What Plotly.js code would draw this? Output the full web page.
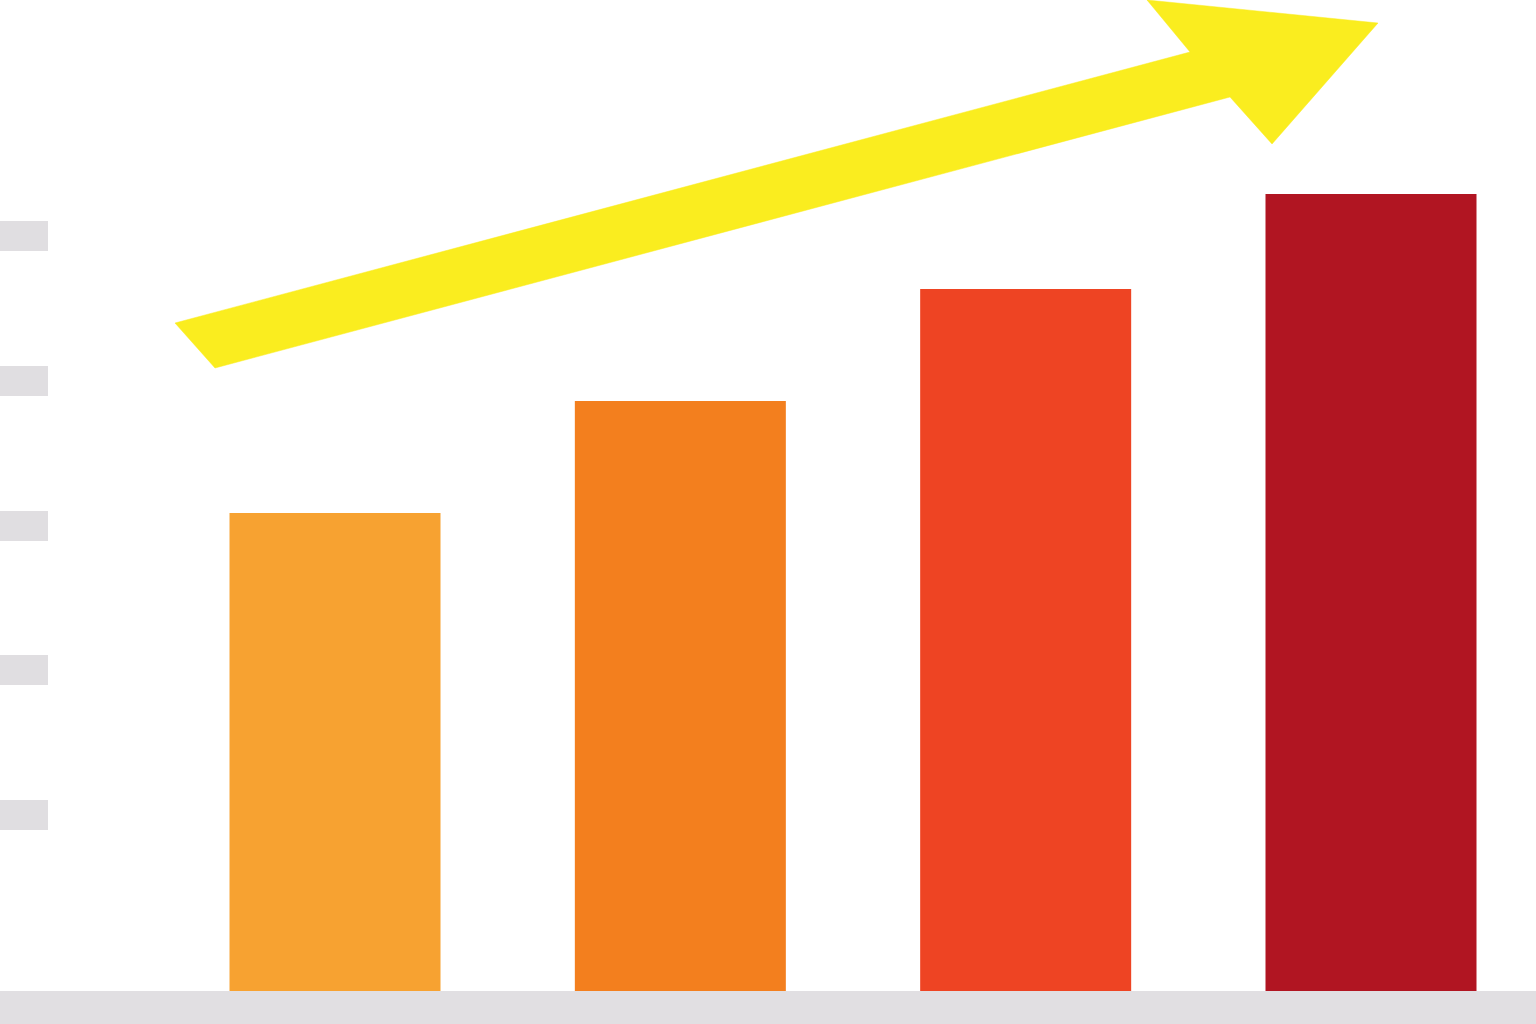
<!DOCTYPE html>
<html>
<head>
<meta charset="utf-8">
<script src="https://cdn.plot.ly/plotly-3.0.1.min.js"></script>
<style>
  html, body { margin: 0; padding: 0; background: #ffffff; overflow: hidden; }
  #chart { width: 1536px; height: 1024px; }
</style>
</head>
<body>
<div id="chart"></div>
<script>
// bar values (arbitrary units, baseline 0)
var categories = [0, 1, 2, 3];
var values = [478, 590, 702, 797];
var barColors = ['#F7A231', '#F37F1E', '#EE4423', '#B11522'];

// grey tick marks on the left
var tickValues = [176, 321, 465, 610, 755];

// trend arrow outline
var arrowX = [-0.4633, 2.4759, 2.3514, 3.0203, 2.7134, 2.5917, -0.3475, -0.4633];
var arrowY = [668, 939, 991, 968, 847, 894, 623, 668];

function showChart() {
    var bars = {
        x: categories,
        y: values,
        type: 'bar',
        width: 0.611,
        marker: { color: barColors, line: { width: 0 } },
        hoverinfo: 'none'
    };
    var arrow = {
        x: arrowX,
        y: arrowY,
        mode: 'lines',
        fill: 'toself',
        fillcolor: '#FAED1F',
        line: { color: '#FAED1F', width: 0.5 },
        hoverinfo: 'none'
    };
    var layout = {
        width: 1536,
        height: 1024,
        margin: { l: 0, r: 0, t: 0, b: 0 },
        paper_bgcolor: '#ffffff',
        plot_bgcolor: '#ffffff',
        showlegend: false,
        xaxis: {
            range: [-0.9701, 3.4778],
            showgrid: false,
            zeroline: false,
            showticklabels: false,
            ticks: ''
        },
        yaxis: {
            range: [-33, 991],
            showgrid: false,
            zeroline: false,
            showticklabels: false,
            tickmode: 'array',
            tickvals: tickValues,
            ticks: 'inside',
            ticklen: 48,
            tickwidth: 30,
            tickcolor: '#E0DEE1'
        },
        shapes: [{
            type: 'rect',
            xref: 'paper',
            yref: 'y',
            x0: 0, x1: 1,
            y0: -40, y1: 0,
            fillcolor: '#E1DFE2',
            line: { width: 0 },
            layer: 'below'
        }]
    };
    Plotly.newPlot('chart', [bars, arrow], layout, { staticPlot: true, displayModeBar: false });
}

showChart();
</script>
</body>
</html>
